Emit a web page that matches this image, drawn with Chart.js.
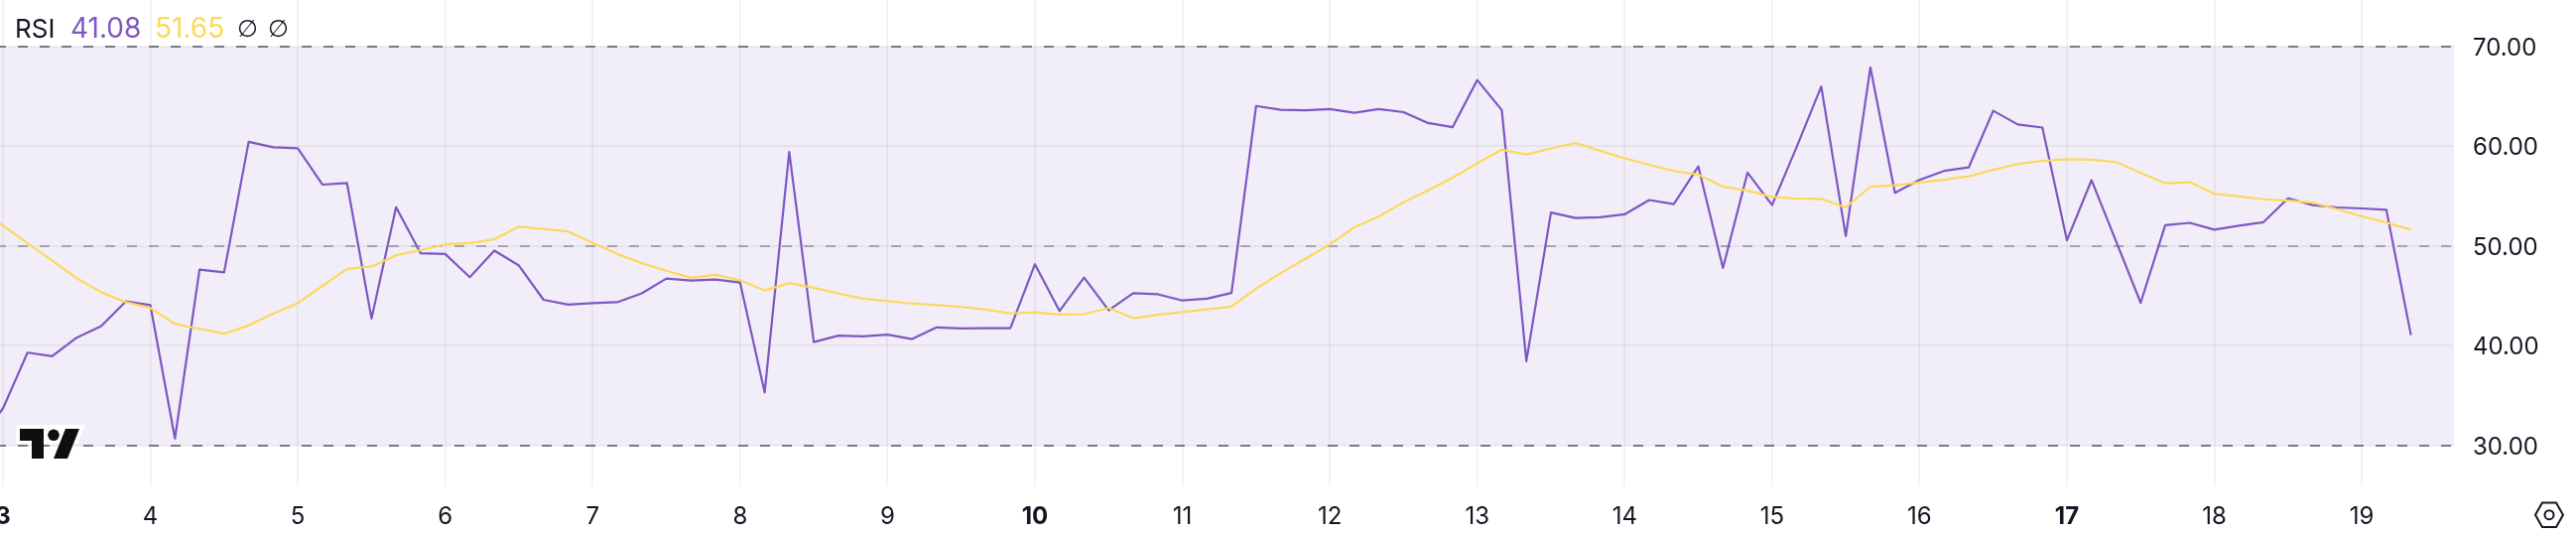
<!DOCTYPE html>
<html>
<head>
<meta charset="utf-8">
<style>
  html, body { margin: 0; padding: 0; background: #fff; }
  canvas { display: block; }
</style>
<script src="https://cdn.jsdelivr.net/npm/chart.js@4"></script>
</head>
<body>
<canvas id="chart" width="2596" height="540"></canvas>
<script>
// one reading every 4 hours, starting just off the left edge
const firstDay = 2 + 5 / 6
const perDay = 6

const rsi = [
  30.5, 33.73, 39.32, 38.97, 40.82, 41.99, 44.45, 44.08, 30.72, 47.64,
  47.36, 60.45, 59.9, 59.8, 56.16, 56.33, 42.74, 53.9, 49.28, 49.21,
  46.88, 49.55, 48.05, 44.62, 44.14, 44.28, 44.38, 45.27, 46.75, 46.54,
  46.64, 46.34, 35.34, 59.42, 40.38, 41.03, 40.96, 41.13, 40.68, 41.85,
  41.75, 41.78, 41.78, 48.18, 43.49, 46.85, 43.56, 45.27, 45.17, 44.55,
  44.73, 45.31, 64.04, 63.66, 63.6, 63.73, 63.36, 63.73, 63.42, 62.33,
  61.92, 66.64, 63.63, 38.46, 53.36, 52.81, 52.88, 53.18, 54.62, 54.21,
  57.98, 47.81, 57.36, 54.11, 59.93, 65.99, 51.0, 67.91, 55.34, 56.64,
  57.53, 57.88, 63.56, 62.19, 61.88, 50.58, 56.61, 50.48, 44.32, 52.09,
  52.33, 51.64, 52.05, 52.4, 54.79, 54.11, 53.87, 53.77, 53.63, 41.08
]

const rsiMa = [
  54.0, 52.05, 50.27, 48.56, 46.78, 45.38, 44.38, 43.8, 42.19, 41.71,
  41.23, 42.05, 43.22, 44.28, 45.99, 47.71, 47.95, 49.08, 49.59, 50.17,
  50.31, 50.68, 51.95, 51.71, 51.47, 50.31, 49.21, 48.29, 47.53, 46.82,
  47.12, 46.58, 45.55, 46.3, 45.82, 45.24, 44.73, 44.49, 44.25, 44.08,
  43.9, 43.63, 43.25, 43.36, 43.15, 43.18, 43.8, 42.77, 43.12, 43.39,
  43.66, 43.94, 45.72, 47.29, 48.73, 50.17, 51.88, 52.98, 54.38, 55.58,
  56.85, 58.29, 59.66, 59.18, 59.79, 60.34, 59.55, 58.8, 58.15, 57.53,
  57.16, 55.96, 55.55, 54.93, 54.76, 54.73, 53.87, 55.96, 56.1, 56.37,
  56.64, 56.99, 57.64, 58.22, 58.53, 58.7, 58.66, 58.42, 57.33, 56.3,
  56.4, 55.24, 54.97, 54.69, 54.55, 54.35, 53.7, 52.98, 52.36, 51.65
]

const dayTicks = [3, 4, 5, 6, 7, 8, 9, 10, 11, 12, 13, 14, 15, 16, 17, 18, 19]
const boldDays = [3, 10, 17]
const rsiTicks = [30, 40, 50, 60, 70]
const bandLevels = [30, 70]
const midLevel = [50]

const purple = '#7e57c2'
const yellow = '#fdd85a'
const inkColor = '#131722'
const fontFamily = 'Inter, sans-serif'

const toPoints = values => values.map((v, i) => ({ x: firstDay + i / perDay, y: v }))

// band under the grid, dashed levels under the lines
const rsiBand = {
  id: 'rsiBand',
  beforeDraw (chart) {
    const { ctx, chartArea, scales } = chart
    const top = scales.y.getPixelForValue(bandLevels[1])
    const bottom = scales.y.getPixelForValue(bandLevels[0])
    ctx.save()
    ctx.fillStyle = 'rgba(126, 87, 194, 0.1)'
    ctx.fillRect(chartArea.left, top, chartArea.width, bottom - top)
    ctx.restore()
  },
  beforeDatasetsDraw (chart) {
    const { ctx, chartArea, scales } = chart
    const level = (value, color) => {
      const y = Math.round(scales.y.getPixelForValue(value))
      ctx.beginPath()
      ctx.moveTo(chartArea.left, y)
      ctx.lineTo(chartArea.right, y)
      ctx.strokeStyle = color
      ctx.stroke()
    }
    ctx.save()
    ctx.lineWidth = 2
    ctx.setLineDash([10, 12])
    ctx.lineDashOffset = 4
    bandLevels.forEach(v => level(v, '#787b86'))
    midLevel.forEach(v => level(v, 'rgba(120, 123, 134, 0.6)'))
    ctx.restore()
  }
}

// header text, logo and the settings icon
const decorations = {
  id: 'decorations',
  afterDraw (chart) {
    const { ctx } = chart
    ctx.save()
    ctx.font = '26px ' + fontFamily
    ctx.textBaseline = 'middle'
    ctx.textAlign = 'left'
    ctx.fillStyle = inkColor
    ctx.fillText('RSI', 15, 30)
    ctx.font = '28px ' + fontFamily
    ctx.fillStyle = purple
    ctx.fillText(rsi[rsi.length - 1].toFixed(2), 71, 30)
    ctx.fillStyle = yellow
    ctx.fillText(rsiMa[rsiMa.length - 1].toFixed(2), 156, 30)
    ctx.fillStyle = inkColor
    ctx.font = '24px "DejaVu Sans", sans-serif'
    ctx.fillText('∅', 239, 31)
    ctx.fillText('∅', 270, 31)

    ctx.fillStyle = '#fff'
    ctx.beginPath()
    ctx.moveTo(16, 428)
    ctx.lineTo(86, 428)
    ctx.lineTo(78, 447.5)
    ctx.lineTo(16, 447.5)
    ctx.closePath()
    ctx.fill()
    ctx.fillStyle = '#0f0f0f'
    ctx.beginPath()
    ctx.moveTo(20, 432)
    ctx.lineTo(44, 432)
    ctx.lineTo(44, 462)
    ctx.lineTo(32, 462)
    ctx.lineTo(32, 444)
    ctx.lineTo(20, 444)
    ctx.closePath()
    ctx.moveTo(66, 432)
    ctx.lineTo(80, 432)
    ctx.lineTo(68, 462)
    ctx.lineTo(54, 462)
    ctx.closePath()
    ctx.fill()
    ctx.beginPath()
    ctx.arc(54, 438.3, 5.8, 0, Math.PI * 2)
    ctx.fill()

    ctx.strokeStyle = inkColor
    ctx.lineWidth = 2
    ctx.beginPath()
    ctx.moveTo(2555, 518.7)
    ctx.lineTo(2562, 506.5)
    ctx.lineTo(2576, 506.5)
    ctx.lineTo(2583, 518.7)
    ctx.lineTo(2576, 531)
    ctx.lineTo(2562, 531)
    ctx.closePath()
    ctx.stroke()
    ctx.beginPath()
    ctx.arc(2569, 518.7, 4.5, 0, Math.PI * 2)
    ctx.stroke()
    ctx.restore()
  }
}

new Chart(document.getElementById('chart'), {
  type: 'line',
  data: {
    datasets: [
      { label: 'RSI', data: toPoints(rsi), borderColor: purple, borderWidth: 2.2, borderJoinStyle: 'round', order: 2 },
      { label: 'RSI MA', data: toPoints(rsiMa), borderColor: yellow, borderWidth: 2.2, borderJoinStyle: 'round', order: 1 }
    ]
  },
  options: {
    responsive: false,
    animation: false,
    devicePixelRatio: 1,
    layout: { padding: 0 },
    elements: { point: { radius: 0 }, line: { tension: 0 } },
    plugins: { legend: { display: false }, tooltip: { enabled: false } },
    scales: {
      x: {
        type: 'linear',
        min: 2.98,
        max: 19.625,
        afterBuildTicks: scale => { scale.ticks = dayTicks.map(value => ({ value })) },
        afterFit: scale => {
          scale.height = 50
          scale.paddingLeft = 0
          scale.paddingRight = 0
        },
        border: { display: false },
        grid: { color: 'rgba(42, 46, 57, 0.06)', lineWidth: 2, drawTicks: false },
        ticks: {
          autoSkip: false,
          maxRotation: 0,
          padding: 16,
          color: inkColor,
          callback: value => String(value),
          font: ctx => ({
            family: fontFamily,
            size: 24,
            weight: boldDays.includes(ctx.tick && ctx.tick.value) ? 'bold' : 'normal'
          })
        }
      },
      y: {
        position: 'right',
        min: 25.92,
        max: 74.66,
        afterBuildTicks: scale => { scale.ticks = rsiTicks.map(value => ({ value })) },
        afterFit: scale => {
          scale.width = 123
          scale.paddingTop = 0
          scale.paddingBottom = 0
        },
        border: { display: false },
        grid: { color: 'rgba(42, 46, 57, 0.06)', lineWidth: 2, drawTicks: false },
        ticks: {
          padding: 19,
          labelOffset: 1.5,
          color: inkColor,
          font: { family: fontFamily, size: 24 },
          callback: value => value.toFixed(2)
        }
      }
    }
  },
  plugins: [rsiBand, decorations]
})
</script>
</body>
</html>
